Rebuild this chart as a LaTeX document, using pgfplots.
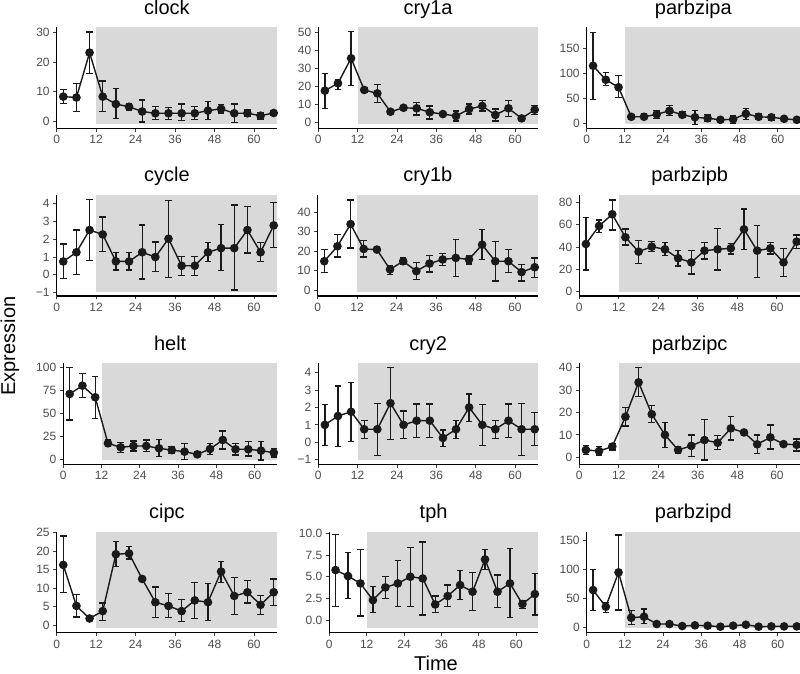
\documentclass[border=0pt]{standalone}
\usepackage{pgfplots}
\usepackage{pgfplotstable}
\pgfplotsset{compat=1.18}
\usepackage{fontspec}
\setmainfont{Liberation Sans}
\definecolor{bggray}{RGB}{217,217,217}
\definecolor{tickgray}{RGB}{77,77,77}
\definecolor{ptcol}{RGB}{26,26,26}

\pgfplotstableread{
t m lo hi
2 8.4 6.2 10.9
6 8.1 3.4 12.7
10 23.2 16.2 30.1
14 8.4 3.4 13.7
18 5.9 1.0 11.1
22 5.0 3.9 5.9
26 3.4 -0.1 7.3
30 2.8 0.8 5.0
34 2.8 0.8 4.8
38 2.8 0.3 5.9
42 2.8 0.6 5.0
46 3.7 0.6 6.7
50 4.3 2.9 5.8
54 2.8 -0.2 5.9
58 2.8 1.7 3.9
62 2.0 0.9 3.1
66 2.9 2.0 3.8
}\dclock
\pgfplotstableread{
t m lo hi
2 17.6 7.8 27.2
6 21.7 18.3 23.9
10 35.6 20.6 50.4
14 18.0 16.5 19.3
18 16.1 10.9 21.1
22 5.9 5.2 6.6
26 8.1 7.2 9.1
30 7.8 4.1 10.9
34 5.6 1.9 9.1
38 4.6 3.9 5.3
42 3.5 0.7 6.3
46 7.4 4.6 10.2
50 9.1 6.3 12.0
54 4.1 0.7 7.4
58 7.8 3.1 12.0
62 2.2 1.6 2.8
66 7.0 4.5 9.5
}\dcryia
\pgfplotstableread{
t m lo hi
2 115 48 182
6 87 75 102
10 72 52 95
14 13 9 17
18 13 7 20
22 18 10 25
26 25 15 35
30 17 12 23
34 12 -3 25
38 10 3 17
42 7 5 9
46 8 0 16
50 19 7 30
54 13 7 19
58 12 5 18
62 9 7 11
66 7 5 9
}\dpa
\pgfplotstableread{
t m lo hi
2 0.75 -0.2 1.74
6 1.27 0.0 2.52
10 2.52 0.8 4.25
14 2.27 1.3 3.25
18 0.76 0.28 1.27
22 0.75 0.28 1.27
26 1.27 -0.23 2.8
30 1.0 0.19 1.84
34 2.03 -0.15 4.2
38 0.51 -0.04 1.04
42 0.51 -0.04 1.04
46 1.27 0.76 1.8
50 1.5 0.25 2.84
54 1.5 -0.85 3.92
58 2.52 1.23 3.83
62 1.27 0.76 1.8
66 2.78 1.52 4.07
}\dcycle
\pgfplotstableread{
t m lo hi
2 14.8 8.9 20.8
6 22.5 16.9 28.4
10 33.9 21.6 46.3
14 21.1 16.9 25.5
18 20.8 19.4 22.1
22 10.6 8.0 12.3
26 14.8 13.1 16.5
30 9.7 5.4 14.0
34 13.6 9.2 17.9
38 15.7 12.6 18.6
42 16.5 7.1 25.9
46 15.7 13.4 17.9
50 23.3 15.7 31.0
54 14.8 4.6 25.0
58 14.8 8.9 20.8
62 9.2 4.6 13.1
66 11.7 6.6 16.5
}\dcryib
\pgfplotstableread{
t m lo hi
2 42.8 19.5 66.8
6 59 53 64.4
10 69.5 55.4 82.3
14 48.8 41.9 56.3
18 35.9 25.4 45.8
22 40.4 35.9 44.9
26 38 32.3 44.3
30 30 23 36.8
34 26.3 15.9 36.8
38 36.8 29.3 44
42 38 19.5 56.9
46 38.9 33.8 43.4
50 56 38 74.3
54 36.8 12.9 59.3
58 38.9 33.8 44
62 26.3 13.5 38.9
66 44.9 38.9 50.9
}\dpb
\pgfplotstableread{
t m lo hi
2 71 42.8 100
6 80 67 93.5
10 67.4 44.6 90
14 17.4 13.8 21
18 13 7.6 18.5
22 14.5 9 20
26 14.5 8.3 21
30 12 2.9 21.7
34 10 6.5 13.8
38 8.3 0 17.4
42 5.4 2.9 8.3
46 11.2 5.4 17.4
50 21 11.2 30.8
54 10.9 4.7 17.4
58 10.9 3.6 19.2
62 9.4 -0.7 19.2
66 7.2 2.5 12
}\dhelt
\pgfplotstableread{
t m lo hi
2 1.0 -0.19 2.15
6 1.51 -0.25 3.23
10 1.75 0.04 3.42
14 0.75 0.23 1.24
18 0.75 -0.76 2.24
22 2.24 0.17 4.28
26 1.0 0.23 1.8
30 1.24 0.27 2.2
34 1.24 0.27 2.2
38 0.25 -0.25 0.71
42 0.75 0.23 1.24
46 2.0 1.19 2.77
50 1.0 -0.19 2.15
54 0.75 0.23 1.24
58 1.24 0.27 2.2
62 0.75 -0.76 2.24
66 0.75 -0.2 1.7
}\dcryii
\pgfplotstableread{
t m lo hi
2 3.3 1.3 5.2
6 2.8 1.0 4.8
10 4.8 3.3 6.2
14 18.1 14 22.1
18 33.4 27 40
22 19.2 15.5 23
26 10 4.5 15.5
30 3.3 1.8 4.8
34 5.1 0.3 10
38 7.7 -1.2 16.9
42 6.5 3.6 9.7
46 12.9 7.7 18.1
50 11.1 10.2 12
54 5.8 1.8 10
58 8.9 3.7 14.4
62 5.9 5.1 6.7
66 5.6 2.8 8.2
}\dpc
\pgfplotstableread{
t m lo hi
2 16.3 8.9 24.1
6 5.2 2.2 8.2
10 1.8 1.2 2.4
14 3.8 1.3 6.0
18 19.2 15.8 22.6
22 19.4 17.9 21.2
26 12.5 11.9 13.1
30 6.2 2.1 10.3
34 5.2 2.0 8.5
38 3.8 0.9 7.0
42 6.7 1.8 11.6
46 6.2 1.3 11.2
50 14.5 11.6 17.2
54 7.9 2.9 12.9
58 8.9 6.0 12.1
62 5.5 2.9 8.0
66 8.9 5.4 12.5
}\dcipc
\pgfplotstableread{
t m lo hi
2 5.77 1.6 9.9
6 5.08 2.5 7.77
10 4.23 0.46 8.15
14 2.3 0.85 3.85
18 3.77 2.5 5.0
22 4.23 1.6 6.9
26 5.0 1.6 8.4
30 4.8 0.58 9.0
34 1.8 0.85 2.77
38 2.77 1.54 4.04
42 4.04 2.4 5.7
46 3.27 1.08 5.5
50 7.0 5.85 8.15
54 3.27 1.42 5.2
58 4.23 0.27 8.27
62 1.85 1.35 2.2
66 3.0 0.6 5.4
}\dtph
\pgfplotstableread{
t m lo hi
2 64.6 28.9 100
6 35.8 26 43.3
10 95.2 30 160
14 16.7 5.2 28.9
18 18.5 6.9 31.7
22 5.8 3.5 8.1
26 5.8 4.0 7.6
30 2.3 1.2 3.4
34 3.5 2.0 5.0
38 2.9 1.8 4.0
42 1.2 0.5 1.9
46 2.9 1.8 4.0
50 4.6 3.0 6.2
54 1.2 0.5 1.9
58 1.7 1.0 2.4
62 1.7 1.0 2.4
66 1.7 1.0 2.4
}\dpd

\pgfplotsset{
  panel/.style={
    scale only axis, height=101pt, anchor=south west,
    xmin=0, xmax=67,
    axis x line=bottom, axis y line=left,
    axis line style={-, line width=1.1pt, black},
    xtick={0,12,24,36,48,60},
    tick align=outside, major tick length=3.5pt,
    tick style={line width=0.9pt, color=black!75},
    minor tick num=0,
    ticklabel style={font=\fontsize{12}{12}\selectfont, text=tickgray},
    /pgf/number format/assume math mode=true,
    title style={font=\fontsize{20}{20}\selectfont, at={(0.5,1)}, anchor=base, yshift=7pt},
  },
  ser/.style={
    color=ptcol, line width=1.4pt, mark=*, mark size=3.6pt,
    mark options={solid, fill=ptcol},
    error bars/.cd, y dir=both, y explicit,
    error bar style={line width=1.3pt, ptcol},
    error mark=-,
    error mark options={rotate=90, line width=1.3pt, mark size=3.3pt, ptcol},
  },
}
\newcommand{\plotseries}[1]{\addplot[ser] table[x=t, y=m, y error plus expr=\thisrow{hi}-\thisrow{m}, y error minus expr=\thisrow{m}-\thisrow{lo}] {#1};}
% grey band from t = 12 (12/67 of the x range) to the right edge
\newcommand{\bgshade}{\fill[bggray] (rel axis cs:0.1791,0.043) rectangle (rel axis cs:1,1);}

\begin{document}
\begin{tikzpicture}[x=1pt,y=1pt]
\useasboundingbox (0pt,0pt) rectangle (800pt,674pt);
% Row 1
\begin{axis}[panel, at={(56.7pt,545.7pt)}, width=220.3pt, title={clock}, ymin=-2.24, ymax=31.7, ytick={0,10,20,30}]
\bgshade \plotseries{\dclock}
\end{axis}
\begin{axis}[panel, at={(318.3pt,545.7pt)}, width=219.7pt, title={cry1a}, ymin=-3.3, ymax=52.8, ytick={0,10,20,30,40,50}]
\bgshade \plotseries{\dcryia}
\end{axis}
\begin{axis}[panel, at={(586.7pt,545.7pt)}, width=213.3pt, title={parbzipa}, ymin=-10, ymax=192, ytick={0,50,100,150}]
\bgshade \plotseries{\dpa}
\end{axis}
% Row 2
\begin{axis}[panel, at={(56.7pt,378pt)}, width=220.3pt, title={cycle}, ymin=-1.19, ymax=4.49, ytick={-1,0,1,2,3,4}, yticklabels={−1,0,1,2,3,4}]
\bgshade \plotseries{\dcycle}
\end{axis}
\begin{axis}[panel, at={(317.7pt,378pt)}, width=220.3pt, title={cry1b}, ymin=-3.1, ymax=48.9, ytick={0,10,20,30,40}]
\bgshade \plotseries{\dcryib}
\end{axis}
\begin{axis}[panel, at={(579.3pt,378pt)}, width=220.7pt, title={parbzipb}, ymin=-3.9, ymax=86.8, ytick={0,20,40,60,80}]
\bgshade \plotseries{\dpb}
\end{axis}
% Row 3
\begin{axis}[panel, at={(63.3pt,209.7pt)}, width=213.7pt, title={helt}, ymin=-5.4, ymax=104.3, ytick={0,25,50,75,100}]
\bgshade \plotseries{\dhelt}
\end{axis}
\begin{axis}[panel, at={(318.3pt,209.7pt)}, width=219.7pt, title={cry2}, ymin=-1.26, ymax=4.53, ytick={-1,0,1,2,3,4}, yticklabels={−1,0,1,2,3,4}]
\bgshade \plotseries{\dcryii}
\end{axis}
\begin{axis}[panel, at={(579.3pt,209.7pt)}, width=220.7pt, title={parbzipc}, ymin=-3.1, ymax=41.9, ytick={0,10,20,30,40}]
\bgshade \plotseries{\dpc}
\end{axis}
% Row 4
\begin{axis}[panel, at={(56.7pt,41.3pt)}, width=220.3pt, title={cipc}, ymin=-2.05, ymax=25.3, ytick={0,5,10,15,20,25}]
\bgshade \plotseries{\dcipc}
\end{axis}
\begin{axis}[panel, at={(329.3pt,41.3pt)}, width=208.7pt, title={tph}, ymin=-1.46, ymax=10.2, ytick={0,2.5,5,7.5,10}, yticklabels={0.0,2.5,5.0,7.5,10.0}]
\bgshade \plotseries{\dtph}
\end{axis}
\begin{axis}[panel, at={(586.7pt,41.3pt)}, width=213.3pt, title={parbzipd}, ymin=-9.2, ymax=165.6, ytick={0,50,100,150}]
\bgshade \plotseries{\dpd}
\end{axis}
\node[rotate=90, anchor=north, inner sep=0pt, font=\fontsize{20}{20}\selectfont] at (0.5pt,328pt) {Expression};
\node[anchor=base, inner sep=0pt, font=\fontsize{20}{20}\selectfont] at (436pt,3pt) {Time};
\end{tikzpicture}
\end{document}
